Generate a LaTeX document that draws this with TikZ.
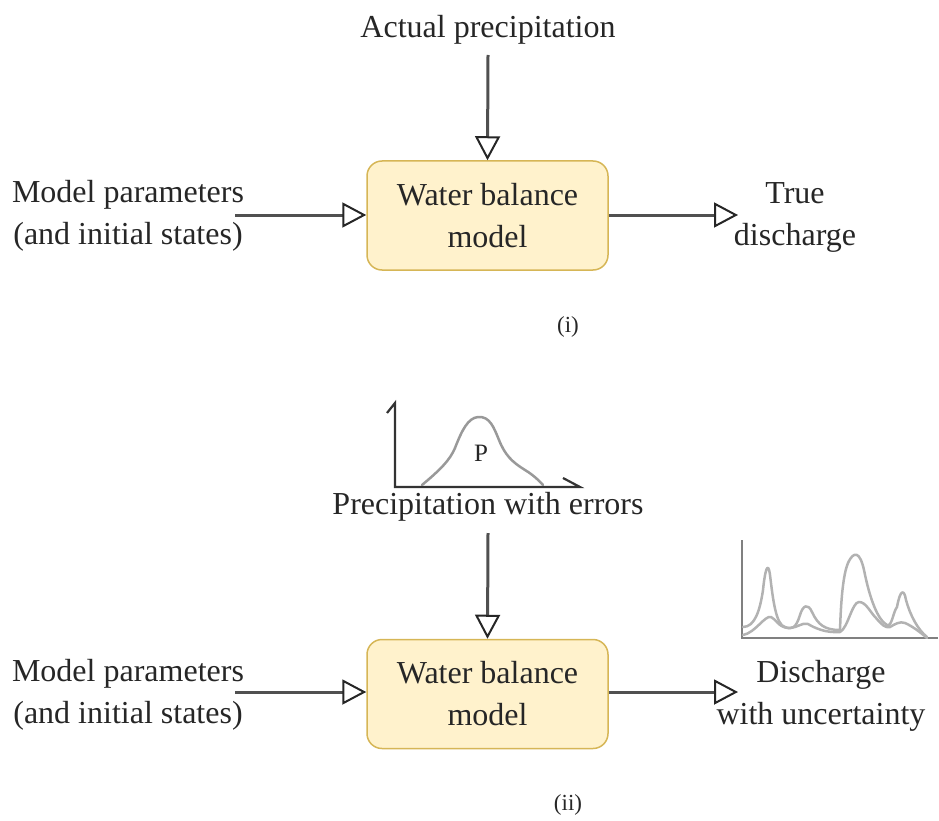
\documentclass[tikz,border=0pt]{standalone}
\usepackage{fontspec}
\setmainfont{Liberation Serif}
\usetikzlibrary{arrows.meta}
\definecolor{boxfill}{HTML}{FFF2CC}
\definecolor{boxline}{HTML}{D6B656}
\definecolor{linegray}{HTML}{505050}
\begin{document}
\begin{tikzpicture}[x=1pt,y=-1pt,
  lbl/.style={font=\fontsize{32}{42}\selectfont, align=center, inner sep=0pt, text=black!85},
  model/.style={draw=boxline, fill=boxfill, line width=1.5pt, rounded corners=15pt,
    minimum width=241pt, minimum height=109pt, align=center,
    font=\fontsize{32}{42}\selectfont, text=black!85},
  flow/.style={draw=linegray, line width=3pt,
    -{Triangle[open, length=24pt, width=25pt, line width=2pt, fill=white, color=black!85]}},
  curve/.style={draw=black!30, line width=2.5pt, line join=round, line cap=round},
  axis/.style={draw=black!80, line width=2.2pt}]
\useasboundingbox (0,0) rectangle (939,821);

% ---------- (i) ----------
\node[lbl] (actual) at (488,30) {Actual precipitation};
\node[model] (wb1) at (487.5,215.5) {Water balance\\model};
\node[lbl] (par1) at (128,216) {Model parameters\\(and initial states)};
\node[lbl] (true) at (795,217) {True\\discharge};
\node[lbl, font=\fontsize{23}{26}\selectfont] (lab1) at (568,327) {(i)};
\coordinate (a1s) at (488,55);
\coordinate (p1s) at (235,215);
\coordinate (t1e) at (738,215);
\draw[flow] (a1s) -- (wb1.north);
\draw[flow] (p1s) -- (wb1.west |- p1s);
\draw[flow] (wb1.east |- t1e) -- (t1e);

% ---------- (ii) ----------
% precipitation distribution
\coordinate (ax1o) at (395,487);
\coordinate (ax1t) at (395,403);
\coordinate (ax1r) at (580,487);
\draw[axis] (387,413) -- (ax1t) -- (ax1o) -- (ax1r) -- (563,478);
\draw[curve, draw=black!40] (422,485) .. controls (440,470) and (450,460) .. (455,448)
  .. controls (462,430) and (468,418) .. (478,417)
  .. controls (490,416) and (494,428) .. (499,440)
  .. controls (505,455) and (512,462) .. (525,470)
  .. controls (535,476) and (540,482) .. (543,485);
\node[lbl, font=\fontsize{25}{28}\selectfont] (P) at (481,453) {P};
\node[lbl] (perr) at (488,507) {Precipitation with errors};

% discharge hydrograph
\draw[axis, draw=black!50] (742,540) -- (742,638) -- (938,638);
\draw[curve] (743,627) .. controls (755,627) and (760,610) .. (763,590)
  .. controls (765,570) and (768,560) .. (770,575)
  .. controls (773,600) and (776,625) .. (785,627)
  .. controls (792,630) and (796,628) .. (800,615)
  .. controls (803,605) and (808,603) .. (812,612)
  .. controls (818,625) and (825,630) .. (840,630)
  .. controls (841,600) and (843,575) .. (848,563)
  .. controls (854,550) and (860,552) .. (864,570)
  .. controls (870,600) and (878,620) .. (887,625)
  .. controls (892,627) and (893,612) .. (897,607)
  .. controls (900,590) and (904,588) .. (906,600)
  .. controls (910,615) and (918,630) .. (927,637);
\draw[curve] (743,635) .. controls (755,633) and (765,615) .. (771,617)
  .. controls (776,619) and (778,627) .. (788,628)
  .. controls (798,628) and (802,622) .. (808,624)
  .. controls (815,628) and (825,633) .. (840,632)
  .. controls (848,628) and (852,602) .. (859,602)
  .. controls (866,602) and (870,612) .. (876,618)
  .. controls (882,625) and (885,628) .. (890,627)
  .. controls (895,624) and (900,621) .. (905,623)
  .. controls (912,626) and (920,632) .. (927,638);

\node[model] (wb2) at (487.5,694) {Water balance\\model};
\node[lbl] (par2) at (128,695) {Model parameters\\(and initial states)};
\node[lbl] (dis) at (821,696) {Discharge\\with uncertainty};
\node[lbl, font=\fontsize{23}{26}\selectfont] (lab2) at (568,805) {(ii)};
\coordinate (a2s) at (488,533);
\coordinate (p2s) at (235,692);
\coordinate (t2e) at (738,692);
\draw[flow] (a2s) -- (wb2.north);
\draw[flow] (p2s) -- (wb2.west |- p2s);
\draw[flow] (wb2.east |- t2e) -- (t2e);
\end{tikzpicture}
\end{document}
